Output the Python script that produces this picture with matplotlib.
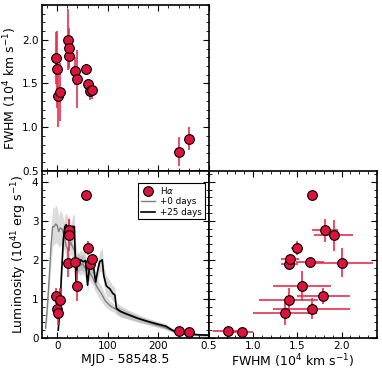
import numpy as np
import matplotlib.pyplot as plt
from matplotlib.ticker import MultipleLocator

# H-alpha measurements (days since MJD 58548.5)
phase = [-3, -1, 1, 6, 22, 23, 24, 35, 40, 56, 60, 64, 68, 240, 260]
fwhm = [1.79, 1.66, 1.36, 1.40, 2.00, 1.81, 1.91, 1.64, 1.55, 1.67, 1.49, 1.41, 1.42, 0.72, 0.87]
fwhm_err = [0.30, 0.44, 0.36, 0.33, 0.35, 0.15, 0.22, 0.16, 0.33, 0.05, 0.06, 0.10, 0.10, 0.17, 0.13]
lum = [1.07, 0.75, 0.63, 0.98, 1.93, 2.76, 2.63, 1.95, 1.33, 3.67, 2.30, 1.90, 2.03, 0.19, 0.15]
lum_err = [0.20, 0.27, 0.31, 0.29, 0.38, 0.29, 0.40, 0.10, 0.39, 0.04, 0.18, 0.08, 0.08, 0.03, 0.03]

# scaled light curve, +0 days shift
t_lc0 = [-23, -20, -16, -12, -9, -6, -3, 0, 3, 6, 10, 14, 18, 22, 26, 30, 35, 40, 45, 50,
         55, 60, 65, 70, 75, 80, 88, 95, 105, 115, 130, 150, 170, 190, 210, 225, 235, 245,
         260, 280, 300]
lc0 = [0.25, 0.7, 1.5, 2.4, 2.85, 2.85, 2.92, 2.88, 2.72, 2.82, 2.78, 2.6, 2.35, 2.25, 2.45,
       2.35, 2.2, 1.95, 1.85, 1.9, 1.8, 1.75, 1.65, 1.55, 1.4, 1.28, 1.12, 0.95, 0.82, 0.74,
       0.64, 0.54, 0.45, 0.36, 0.28, 0.2, 0.15, 0.12, 0.1, 0.08, 0.07]
lc0_err = [0.05, 0.2, 0.35, 0.45, 0.5, 0.45, 0.5, 0.45, 0.4, 0.45, 0.4, 0.35, 0.3, 0.3, 0.3,
           0.3, 0.3, 0.25, 0.25, 0.25, 0.25, 0.25, 0.2, 0.2, 0.2, 0.2, 0.2, 0.15, 0.12, 0.1,
           0.1, 0.08, 0.07, 0.06, 0.05, 0.04, 0.03, 0.03, 0.03, 0.03, 0.03]

# scaled light curve, +25 days shift
t_lc25 = [2, 4, 6, 8, 10, 12, 15, 18, 21, 24, 27, 31, 34, 37, 40, 43, 47, 51, 56, 60, 64,
          69, 72, 76, 80, 84, 89, 92, 97, 100, 104, 110, 114, 117, 125, 140, 160, 180,
          200, 215, 225, 235, 245, 260, 280, 300]
lc25 = [0.2, 0.5, 0.9, 1.5, 2.0, 2.5, 2.85, 2.9, 2.8, 2.82, 2.6, 2.86, 2.85, 1.45, 1.9,
        1.95, 2.0, 1.95, 1.98, 1.35, 1.85, 1.9, 1.8, 1.43, 1.72, 1.95, 2.0, 1.6, 1.34, 1.3,
        1.26, 1.14, 1.1, 0.76, 0.68, 0.6, 0.5, 0.42, 0.35, 0.3, 0.22, 0.15, 0.12, 0.1, 0.08,
        0.07]
lc25_err = [0.05, 0.1, 0.15, 0.2, 0.25, 0.3, 0.3, 0.3, 0.3, 0.3, 0.3, 0.3, 0.3, 0.25, 0.25,
            0.25, 0.25, 0.25, 0.25, 0.2, 0.25, 0.25, 0.2, 0.2, 0.25, 0.25, 0.3, 0.25,
            0.25, 0.25, 0.2, 0.2, 0.2, 0.15, 0.15, 0.12, 0.1, 0.08, 0.07, 0.06, 0.05, 0.04,
            0.03, 0.03, 0.03, 0.03]

red = '#dc143c'
ered = '#e8304c'

fig = plt.figure(figsize=(3.82, 3.73), dpi=100)
ax_fw = fig.add_axes([0.110, 0.542, 0.437, 0.445])
ax_lc = fig.add_axes([0.110, 0.094, 0.437, 0.448])
ax_sc = fig.add_axes([0.547, 0.094, 0.440, 0.448])


def style(ax):
    ax.tick_params(which='both', direction='in', top=True, right=True, labelsize=7.5, pad=2.5)
    ax.tick_params(which='major', length=4, width=0.8)
    ax.tick_params(which='minor', length=2, width=0.6)
    for s in ax.spines.values():
        s.set_linewidth(1.2)


# FWHM vs phase
ax_fw.errorbar(phase, fwhm, yerr=fwhm_err, fmt='o', color=red, ecolor=ered, elinewidth=1.2,
               ms=7, mec='black', mew=0.8, capsize=0)
ax_fw.set_xlim(-30, 300)
ax_fw.set_ylim(0.5, 2.4)
ax_fw.xaxis.set_major_locator(MultipleLocator(100))
ax_fw.xaxis.set_minor_locator(MultipleLocator(20))
ax_fw.yaxis.set_major_locator(MultipleLocator(0.5))
ax_fw.yaxis.set_minor_locator(MultipleLocator(0.1))
ax_fw.set_xticklabels([])
ax_fw.set_ylabel(r'FWHM (10$^4$ km s$^{-1}$)', fontsize=9, labelpad=2)
style(ax_fw)

# luminosity vs phase
t0 = np.array(t_lc0)
l0 = np.array(lc0)
e0 = np.array(lc0_err)
t25 = np.array(t_lc25)
l25 = np.array(lc25)
e25 = np.array(lc25_err)
ax_lc.fill_between(t0, l0 - e0, l0 + e0, color='0.55', alpha=0.3, lw=0)
ax_lc.fill_between(t25, l25 - e25, l25 + e25, color='0.5', alpha=0.3, lw=0)
ax_lc.plot(t0, l0, color='0.5', lw=1.0, label='+0 days')
ax_lc.plot(t25, l25, color='black', lw=1.2, label='+25 days')
ax_lc.errorbar(phase, lum, yerr=lum_err, fmt='o', color=red, ecolor=ered, elinewidth=1.2,
               ms=7, mec='black', mew=0.8, capsize=0, label=r'H$\alpha$', zorder=5)
ax_lc.set_xlim(-30, 300)
ax_lc.set_ylim(0, 4.28)
ax_lc.set_xticks([0, 100, 200])
ax_lc.xaxis.set_minor_locator(MultipleLocator(20))
ax_lc.yaxis.set_major_locator(MultipleLocator(1))
ax_lc.yaxis.set_minor_locator(MultipleLocator(0.2))
ax_lc.set_xlabel('MJD - 58548.5', fontsize=9, labelpad=1)
ax_lc.set_ylabel(r'Luminosity (10$^{41}$ erg s$^{-1}$)', fontsize=9, labelpad=2)
style(ax_lc)
handles, labels = ax_lc.get_legend_handles_labels()
order = [2, 0, 1]
leg = ax_lc.legend([handles[i] for i in order], [labels[i] for i in order], loc='upper right',
                   bbox_to_anchor=(0.975, 0.93), borderaxespad=0, fontsize=6.3,
                   fancybox=False, edgecolor='black', framealpha=1, handlelength=1.6,
                   handletextpad=0.6, borderpad=0.3, labelspacing=0.15)
leg.get_frame().set_linewidth(0.8)

# luminosity vs FWHM
ax_sc.errorbar(fwhm, lum, xerr=fwhm_err, yerr=lum_err, fmt='o', color=red, ecolor=ered,
               elinewidth=1.2, ms=7, mec='black', mew=0.8, capsize=0)
ax_sc.set_xlim(0.5, 2.4)
ax_sc.set_ylim(0, 4.28)
ax_sc.xaxis.set_major_locator(MultipleLocator(0.5))
ax_sc.xaxis.set_minor_locator(MultipleLocator(0.1))
ax_sc.yaxis.set_major_locator(MultipleLocator(1))
ax_sc.yaxis.set_minor_locator(MultipleLocator(0.2))
ax_sc.set_yticklabels([])
ax_sc.set_xlabel(r'FWHM (10$^4$ km s$^{-1}$)', fontsize=9, labelpad=1)
style(ax_sc)

fig.savefig('out.png', dpi=100)
